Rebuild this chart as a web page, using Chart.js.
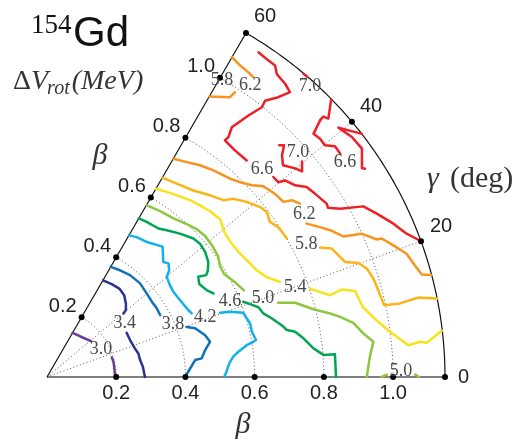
<!DOCTYPE html>
<html>
<head>
<meta charset="utf-8">
<script src="https://cdn.jsdelivr.net/npm/chart.js@4.4.1/dist/chart.umd.min.js"></script>
<style>
  body { margin: 0; background: #fff; }
  canvas { display: block; }
</style>
</head>
<body>
<canvas id="c" width="532" height="442"></canvas>
<script>
// beta-gamma plane, points stored as [beta*cos(gamma), beta*sin(gamma)]
const betaMax = 1.15;
const betaTicks = [0.2, 0.4, 0.6, 0.8, 1.0];
const gammaTicks = [0, 20, 40, 60];

const lv30 = [
    [[0.074, 0.128], [0.095, 0.118], [0.127, 0.104]],
    [[0.187, 0.057], [0.192, 0.044], [0.194, 0.030], [0.197, 0]]
];
const lv34 = [
    [[0.162, 0.280], [0.187, 0.269], [0.209, 0.256], [0.223, 0.237], [0.228, 0.213], [0.228, 0.194], [0.221, 0.184]],
    [[0.230, 0.128], [0.240, 0.107], [0.254, 0.083], [0.264, 0.068], [0.269, 0.049], [0.277, 0.030], [0.283, 0]]
];
const lv38 = [
    [[0.184, 0.319], [0.211, 0.309], [0.240, 0.295], [0.269, 0.271], [0.288, 0.242], [0.303, 0.218], [0.317, 0.199], [0.327, 0.179]],
    [[0.404, 0.145], [0.428, 0.141], [0.457, 0.121], [0.471, 0.102], [0.457, 0.078], [0.447, 0.054], [0.428, 0.049], [0.399, 0]]
];
const lv42 = [
    [[0.237, 0.410], [0.259, 0.405], [0.288, 0.391], [0.322, 0.381], [0.334, 0.377], [0.336, 0.333], [0.351, 0.329],
     [0.353, 0.309], [0.346, 0.290], [0.355, 0.266], [0.365, 0.247], [0.384, 0.223], [0.408, 0.194], [0.418, 0.184]],
    [[0.500, 0.186], [0.529, 0.189], [0.567, 0.186], [0.577, 0.170], [0.587, 0.155], [0.592, 0.131], [0.604, 0.107],
     [0.596, 0.102], [0.577, 0.092], [0.553, 0.073], [0.538, 0.059], [0.527, 0.040], [0.517, 0.011], [0.512, 0]]
];
const lv46 = [
    [[0.265, 0.459], [0.288, 0.449], [0.322, 0.430], [0.346, 0.425], [0.384, 0.415], [0.423, 0.401], [0.442, 0.386],
     [0.457, 0.362], [0.466, 0.333], [0.465, 0.309], [0.460, 0.295], [0.437, 0.290], [0.440, 0.269], [0.462, 0.251], [0.481, 0.242]],
    [[0.567, 0.218], [0.587, 0.211], [0.611, 0.202], [0.625, 0.184], [0.649, 0.170], [0.678, 0.150], [0.693, 0.136],
     [0.717, 0.131], [0.741, 0.112], [0.770, 0.083], [0.799, 0.064], [0.832, 0.066], [0.835, 0]]
];
const lv50 = [
    [[0.289, 0.497], [0.327, 0.480], [0.364, 0.460], [0.399, 0.445], [0.431, 0.429], [0.457, 0.408], [0.477, 0.381],
     [0.494, 0.350], [0.500, 0.321], [0.512, 0.298], [0.546, 0.272], [0.569, 0.251]],
    [[0.668, 0.215], [0.717, 0.215], [0.770, 0.196], [0.818, 0.184], [0.847, 0.174], [0.885, 0.157], [0.914, 0.126],
     [0.943, 0.102], [0.933, 0.059], [0.924, 0]],
    [[0.967, 0], [0.982, 0.007]],
    [[1.064, 0.007], [1.075, 0]]
];
const lv54 = [
    [[0.315, 0.545], [0.346, 0.536], [0.375, 0.526], [0.413, 0.512], [0.442, 0.497], [0.471, 0.480], [0.500, 0.457],
     [0.514, 0.416], [0.534, 0.386], [0.558, 0.357], [0.582, 0.333], [0.606, 0.309], [0.635, 0.289], [0.673, 0.275]],
    [[0.760, 0.256], [0.789, 0.246], [0.818, 0.237], [0.852, 0.253], [0.890, 0.249], [0.913, 0.202], [0.948, 0.168],
     [0.991, 0.131], [1.044, 0.092], [1.078, 0.102], [1.097, 0.099], [1.141, 0.134]]
];
const lv58 = [
    [[0.333, 0.577], [0.375, 0.560], [0.423, 0.540], [0.471, 0.526], [0.510, 0.512], [0.538, 0.516], [0.577, 0.507],
     [0.616, 0.492], [0.635, 0.478], [0.644, 0.449], [0.668, 0.434], [0.683, 0.415], [0.693, 0.401]],
    [[0.789, 0.375], [0.823, 0.372], [0.861, 0.333], [0.900, 0.330], [0.924, 0.314], [0.943, 0.285], [0.957, 0.251],
     [0.974, 0.208], [1.020, 0.213], [1.073, 0.230], [1.127, 0.227]]
];
const lv62 = [
    [[0.365, 0.632], [0.404, 0.622], [0.442, 0.613], [0.481, 0.598], [0.529, 0.574], [0.558, 0.564], [0.592, 0.555],
     [0.625, 0.552], [0.644, 0.540], [0.664, 0.526], [0.683, 0.507], [0.707, 0.512], [0.731, 0.502]],
    [[0.750, 0.444], [0.789, 0.434], [0.818, 0.425], [0.856, 0.407], [0.909, 0.415], [0.953, 0.398], [0.967, 0.401],
     [1.001, 0.381], [1.039, 0.357], [1.063, 0.323], [1.083, 0.297], [1.111, 0.295]],
    [[0.534, 0.926], [0.558, 0.902], [0.582, 0.882], [0.596, 0.868]],
    [[0.543, 0.825], [0.529, 0.810], [0.469, 0.812]]
];
const lv66 = [
    [[0.611, 0.940], [0.640, 0.916], [0.659, 0.902], [0.664, 0.877], [0.688, 0.849], [0.702, 0.825], [0.668, 0.810],
     [0.630, 0.800], [0.621, 0.781], [0.582, 0.757], [0.534, 0.723], [0.524, 0.694], [0.514, 0.685], [0.543, 0.656], [0.577, 0.627]],
    [[0.654, 0.579], [0.668, 0.564], [0.688, 0.569], [0.717, 0.555], [0.750, 0.550], [0.774, 0.531], [0.808, 0.502],
     [0.812, 0.490], [0.847, 0.487], [0.914, 0.494], [0.953, 0.473], [1.001, 0.444], [1.039, 0.415], [1.081, 0.393]],
    [[0.821, 0.803], [0.813, 0.748], [0.798, 0.754], [0.789, 0.743], [0.775, 0.714], [0.770, 0.704], [0.789, 0.690],
     [0.803, 0.671], [0.832, 0.668], [0.847, 0.647]],
    [[0.919, 0.603], [0.910, 0.605], [0.910, 0.661], [0.881, 0.695], [0.842, 0.722], [0.910, 0.704]]
];
const lv70 = [
    [[0.671, 0.671], [0.685, 0.671], [0.679, 0.642], [0.682, 0.613], [0.717, 0.604], [0.737, 0.595], [0.737, 0.624]],
    [[0.741, 0.878], [0.751, 0.870]]
];

const levelLines = [lv30, lv34, lv38, lv42, lv46, lv50, lv54, lv58, lv62, lv66, lv70];
const levelColors = ['#6a3b9c', '#2e3192', '#0e72b9', '#12b0ec', '#00a651', '#8dc63f',
    '#f8e21c', '#fbb418', '#f7941d', '#ec2027', '#ec2027'];

// contour labels (text and position in the same plane)
const labelText = ['3.0', '3.4', '3.8', '4.2', '4.6', '5.0', '5.4', '5.8', '6.2', '6.6', '7.0', '7.0', '6.6', '5.8', '6.2', '5.0'];
const labelX = [0.156, 0.225, 0.364, 0.457, 0.529, 0.624, 0.717, 0.749, 0.743, 0.621, 0.725, 0.760, 0.861, 0.506, 0.587, 1.023];
const labelY = [0.081, 0.156, 0.153, 0.173, 0.220, 0.228, 0.260, 0.384, 0.471, 0.601, 0.650, 0.841, 0.621, 0.858, 0.844, 0.017];

let datasets = [];
levelLines.forEach(function (segs, i) {
    for (let seg of segs) {
        datasets.push({
            data: seg.map(p => ({ x: p[0], y: p[1] })),
            showLine: true,
            borderColor: levelColors[i],
            borderWidth: 2.5,
            borderJoinStyle: 'round',
            borderCapStyle: 'round',
            pointRadius: 0,
            fill: false,
            tension: 0,
            clip: false
        });
    }
});

function rad(deg) { return deg * Math.PI / 180; }

/* draws the polar frame, grid, ticks and all the texts */
const polarFrame = {
    id: 'polarFrame',
    beforeDraw(chart) {
        const ctx = chart.ctx;
        ctx.save();
        ctx.fillStyle = '#fff';
        ctx.fillRect(0, 0, chart.width, chart.height);
        ctx.restore();
    },
    beforeDatasetsDraw(chart) {
        const ctx = chart.ctx;
        const xs = chart.scales.x, ys = chart.scales.y;
        const P = (b, g) => [xs.getPixelForValue(b * Math.cos(rad(g))), ys.getPixelForValue(b * Math.sin(rad(g)))];

        ctx.save();
        // dotted grid
        ctx.strokeStyle = '#555';
        ctx.lineWidth = 1;
        ctx.setLineDash([1, 2.5]);
        for (let b of betaTicks) {
            ctx.beginPath();
            for (let g = 0; g <= 60; g += 1) {
                const p = P(b, g);
                if (g === 0) ctx.moveTo(p[0], p[1]); else ctx.lineTo(p[0], p[1]);
            }
            ctx.stroke();
        }
        for (let g of [20, 40]) {
            const a = P(0, g), e = P(betaMax, g);
            ctx.beginPath();
            ctx.moveTo(a[0], a[1]);
            ctx.lineTo(e[0], e[1]);
            ctx.stroke();
        }
        ctx.setLineDash([]);

        // frame
        const o = P(0, 0);
        let e = P(betaMax, 0);
        ctx.strokeStyle = '#555';
        ctx.lineWidth = 1.6;
        ctx.beginPath();
        ctx.moveTo(o[0], o[1]);
        ctx.lineTo(e[0], e[1]);
        ctx.stroke();
        ctx.strokeStyle = '#111';
        ctx.lineWidth = 1.2;
        e = P(betaMax, 60);
        ctx.beginPath();
        ctx.moveTo(o[0], o[1]);
        ctx.lineTo(e[0], e[1]);
        ctx.stroke();
        ctx.beginPath();
        for (let g = 0; g <= 60; g += 0.5) {
            const p = P(betaMax, g);
            if (g === 0) ctx.moveTo(p[0], p[1]); else ctx.lineTo(p[0], p[1]);
        }
        ctx.stroke();
        ctx.restore();
    },
    afterDatasetsDraw(chart) {
        const ctx = chart.ctx;
        const xs = chart.scales.x, ys = chart.scales.y;
        const P = (b, g) => [xs.getPixelForValue(b * Math.cos(rad(g))), ys.getPixelForValue(b * Math.sin(rad(g)))];

        ctx.save();
        // tick dots
        ctx.fillStyle = '#000';
        const dot = (p) => { ctx.beginPath(); ctx.arc(p[0], p[1], 3, 0, 2 * Math.PI); ctx.fill(); };
        for (let b of betaTicks) { dot(P(b, 0)); dot(P(b, 60)); }
        for (let g of gammaTicks) dot(P(betaMax, g));

        // beta tick labels
        ctx.font = '20px "Liberation Sans", Arial, sans-serif';
        ctx.fillStyle = '#222';
        ctx.textBaseline = 'middle';
        for (let b of betaTicks) {
            let p = P(b, 0);
            ctx.textAlign = 'center';
            ctx.fillText(b.toFixed(1), p[0], p[1] + 16);
            p = P(b, 60);
            ctx.textAlign = 'right';
            ctx.fillText(b.toFixed(1), p[0] - 5, p[1] - 11);
        }
        // gamma tick labels
        ctx.textAlign = 'left';
        const gOff = { 0: [13, 0], 20: [9, -15], 40: [8, -15], 60: [8, -17] };
        for (let g of gammaTicks) {
            const p = P(betaMax, g);
            ctx.fillText(String(g), p[0] + gOff[g][0], p[1] + gOff[g][1]);
        }

        // contour labels
        ctx.font = '18px "Liberation Serif", "Times New Roman", serif';
        ctx.fillStyle = '#4a4a4a';
        ctx.textAlign = 'center';
        for (let i = 0; i < labelText.length; i++) {
            ctx.fillText(labelText[i], xs.getPixelForValue(labelX[i]), ys.getPixelForValue(labelY[i]));
        }

        // axis titles
        ctx.fillStyle = '#333';
        ctx.textBaseline = 'alphabetic';
        ctx.font = 'italic 30px "Liberation Serif", serif';
        ctx.fillText('\u03b2', 100, 164);
        ctx.fillText('\u03b2', 243, 433);
        ctx.textAlign = 'left';
        ctx.fillText('\u03b3', 427, 187);
        ctx.font = '30px "Liberation Serif", serif';
        ctx.fillText('(deg)', 450, 187);

        // title
        ctx.fillStyle = '#111';
        ctx.font = '27px "Liberation Serif", serif';
        ctx.fillText('154', 31, 33);
        ctx.font = '42px "Liberation Sans", Arial, sans-serif';
        ctx.fillText('Gd', 73, 46);

        ctx.fillStyle = '#333';
        let x = 13;
        ctx.font = '28px "Liberation Serif", serif';
        ctx.fillText('\u0394', x, 89);
        x += ctx.measureText('\u0394').width;
        ctx.font = 'italic 28px "Liberation Serif", serif';
        ctx.fillText('V', x, 89);
        x += ctx.measureText('V').width - 1;
        ctx.font = 'italic 20px "Liberation Serif", serif';
        ctx.fillText('rot', x, 94);
        x += ctx.measureText('rot').width + 2;
        ctx.font = 'italic 28px "Liberation Serif", serif';
        ctx.fillText('(MeV)', x, 89);
        ctx.restore();
    }
};

new Chart('c', {
    type: 'scatter',
    data: { datasets: datasets },
    options: {
        responsive: false,
        animation: false,
        events: [],
        layout: { padding: { left: 47, right: 87, top: 33, bottom: 65 } },
        scales: {
            x: { type: 'linear', min: 0, max: betaMax, display: false },
            y: { type: 'linear', min: 0, max: betaMax * Math.sin(Math.PI / 3), display: false }
        },
        plugins: {
            legend: { display: false },
            tooltip: { enabled: false }
        }
    },
    plugins: [polarFrame]
});
</script>
</body>
</html>
